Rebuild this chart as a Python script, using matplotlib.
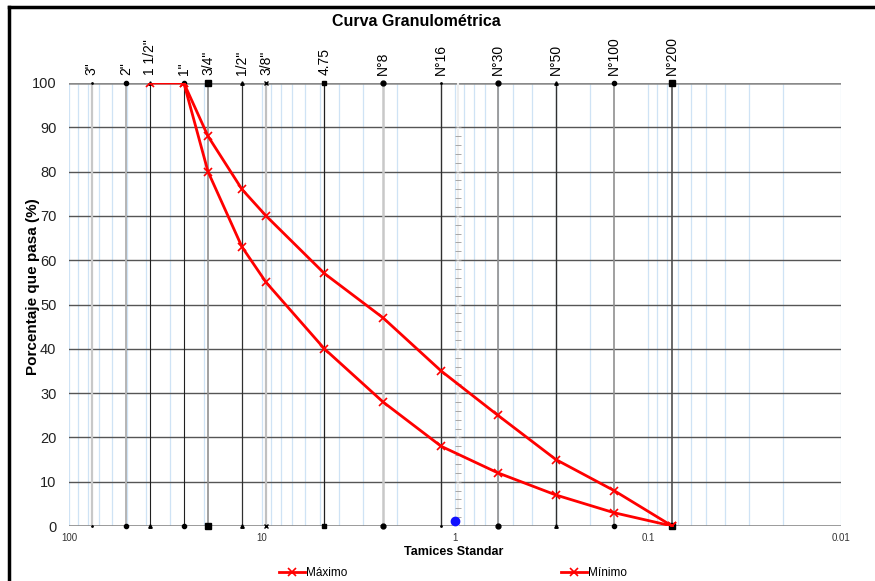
import numpy as np
import matplotlib
matplotlib.use("Agg")
import matplotlib.pyplot as plt
from matplotlib.lines import Line2D

plt.rcParams['font.family'] = ['Liberation Sans', 'DejaVu Sans']

# Sieve openings (mm) and their names
sieve_names = ['3"', '2"', '1 1/2"', '1"', '3/4"', '1/2"', '3/8"', '4.75',
               'N°8', 'N°16', 'N°30', 'N°50', 'N°100', 'N°200']
sieve_mm = [76.2, 50.8, 38.1, 25.4, 19.05, 12.7, 9.525, 4.75,
            2.36, 1.18, 0.6, 0.3, 0.15, 0.075]

# Gradation band limits (% passing)
max_sizes = [38.1, 25.4, 19.05, 12.7, 9.525, 4.75, 2.36, 1.18, 0.6, 0.3, 0.15, 0.075]
max_pass = [100, 100, 88, 76, 70, 57, 47, 35, 25, 15, 8, 0]
min_sizes = [25.4, 19.05, 12.7, 9.525, 4.75, 2.36, 1.18, 0.6, 0.3, 0.15, 0.075]
min_pass = [100, 80, 63, 55, 40, 28, 18, 12, 7, 3, 0]

# Sample point
sample_size = [1.0]
sample_pass = [1.2]

line_colors = ['#c8c8c8', '#b4b4b4', '#202020', '#202020', '#909090', '#303030', '#c0c0c0',
               '#202020', '#c8c8c8', '#303030', '#909090', '#303030', '#909090', '#505050']
line_widths = [1.6, 1.4, 0.8, 0.8, 1.2, 0.9, 1.6, 0.9, 1.8, 1.0, 1.2, 1.0, 1.2, 1.2]
end_markers = ['.', 'o', '^', 'o', 's', '^', 'x', 's', 'o', '.', 'o', '^', 'o', 's']
end_sizes = [2, 3, 2.5, 3, 4, 2.5, 3, 2.5, 3.5, 2, 3.5, 2.5, 3, 5]

W, H = 875, 581
fig = plt.figure(figsize=(W / 100, H / 100), dpi=100)
ax = fig.add_axes([69 / W, 1 - 526 / H, (841 - 69) / W, (526 - 83) / H])

ax.set_xscale('log')
ax.set_xlim(100, 0.01)
ax.set_ylim(0, 100)

# light blue minor grid at log subdivisions
for dec in [10, 1, 0.1, 0.01]:
    for k in range(1, 10):
        ax.axvline(dec * k, color='#cfe3f5', lw=0.9, zorder=0)
ax.axvline(100, color='#cfe3f5', lw=0.9, zorder=0)

# horizontal grid
for yv in range(10, 101, 10):
    ax.axhline(yv, color='#555555' if yv < 100 else '#8a8a8a',
               lw=1.0 if yv < 100 else 1.8, zorder=1)
ax.axhline(0, color='#8a8a8a', lw=1.2, zorder=1)

# sieve lines and their end markers
for xs, c, w, m, s in zip(sieve_mm, line_colors, line_widths, end_markers, end_sizes):
    ax.plot([xs, xs], [0, 100], color=c, lw=w, zorder=1.5)
    ax.plot([xs, xs], [0, 100], linestyle='none', marker=m, color='black',
            markersize=s, zorder=4, clip_on=False)

# small scale ticks near the unit line
ax.axvline(0.96, color='#eeeeee', lw=1.5, zorder=1.2)
ax.plot([0.96] * 45, np.arange(2, 92, 2), linestyle='none', marker='_',
        color='#9a9a9a', markersize=4, markeredgewidth=0.6, zorder=1.3)

l_max, = ax.plot(max_sizes, max_pass, color='#ff0000', lw=2, marker='x', markersize=6,
                 markeredgewidth=1.2, label='Máximo', zorder=5)
l_min, = ax.plot(min_sizes, min_pass, color='#ff0000', lw=2, marker='x', markersize=6,
                 markeredgewidth=1.2, label='Mínimo', zorder=5)
ax.plot(sample_size, sample_pass, 'o', color='#1010ff', markersize=6, zorder=6)

# sieve names above the top line
for name, xs in zip(sieve_names, sieve_mm):
    ax.text(xs, 101.8, name, rotation=90, ha='center', va='bottom', fontsize=10)

for sp in ax.spines.values():
    sp.set_visible(False)

ax.set_xticks([100, 10, 1, 0.1, 0.01])
ax.set_xticklabels(['100', '10', '1', '0.1', '0.01'], fontsize=7, color='#333333')
ax.xaxis.set_minor_locator(matplotlib.ticker.NullLocator())
ax.set_yticks(range(0, 101, 10))
ax.set_yticklabels([str(v) for v in range(0, 101, 10)], fontsize=10.5, color='#222222')
ax.tick_params(axis='both', length=0)
ax.tick_params(axis='y', pad=9)
ax.tick_params(axis='x', pad=5)

ax.set_ylabel('Porcentaje que pasa (%)', fontsize=11, fontweight='bold')
ax.yaxis.set_label_coords((40 - 69) / (841 - 69), (526 - 287) / (526 - 83))
ax.set_xlabel('Tamices Standar', fontsize=9, fontweight='bold')
ax.xaxis.set_label_coords((454 - 69) / (841 - 69), (526 - 552) / (526 - 83))
ax.xaxis.label.set_va('center')

fig.text(416 / W, 1 - 21 / H, 'Curva Granulométrica', ha='center', va='center',
         fontsize=11.5, fontweight='bold')

# legend entries placed below the axis title
legend_kw = dict(loc='center left', frameon=False, fontsize=8.5, handlelength=2.2,
                 handletextpad=0.1, borderpad=0, borderaxespad=0)
fig.legend([l_max], ['Máximo'], bbox_to_anchor=(279 / W, 1 - 573 / H), **legend_kw)
fig.legend([l_min], ['Mínimo'], bbox_to_anchor=(561 / W, 1 - 573 / H), **legend_kw)

# chart frame: top and left edges
fig.add_artist(Line2D([9 / W, 9 / W], [0, 1 - 7 / H], transform=fig.transFigure,
                      color='black', lw=2.5))
fig.add_artist(Line2D([9 / W, 1], [1 - 7 / H, 1 - 7 / H], transform=fig.transFigure,
                      color='black', lw=2.5))

fig.savefig('out.png', dpi=100)
